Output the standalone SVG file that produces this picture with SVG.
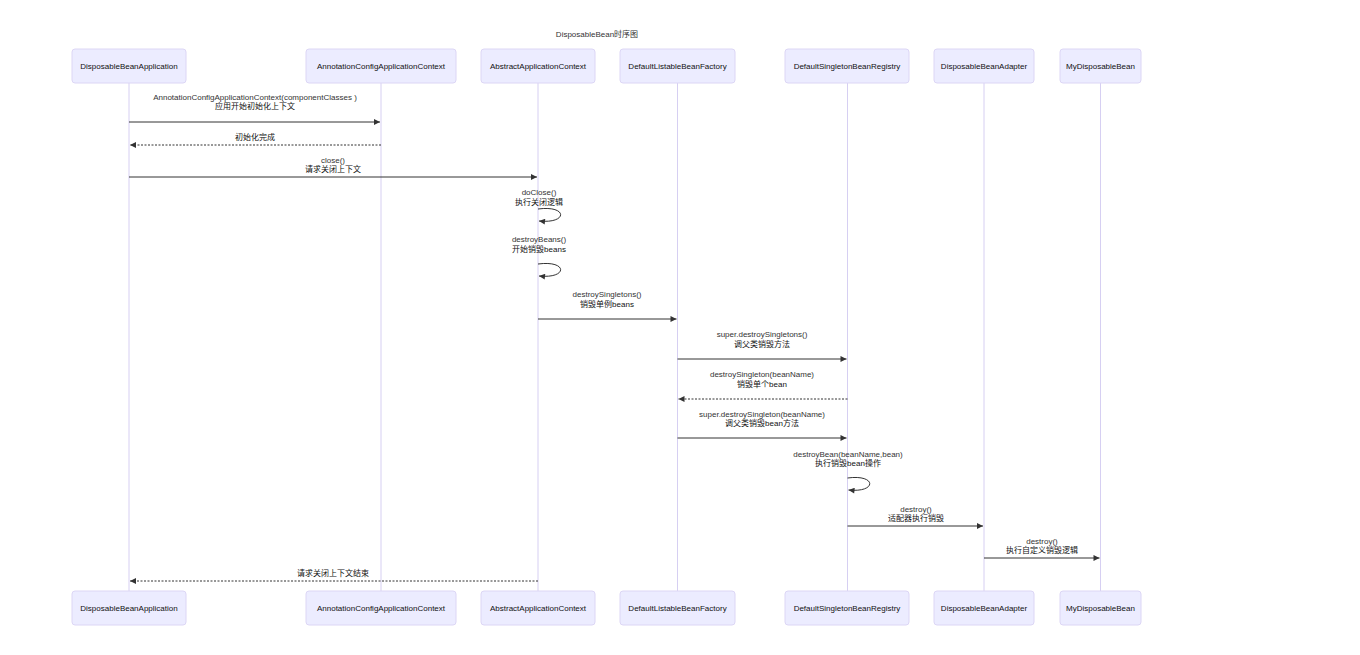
<svg xmlns="http://www.w3.org/2000/svg" width="1360" height="655" viewBox="0 0 1360 655">
<style>
.bg{fill:#ffffff}
.actor rect{fill:#ECECFF;stroke:#DCD6F5;stroke-width:1}
.actor text{font-family:"Liberation Sans","Noto Sans CJK SC",sans-serif;font-size:8px;fill:#111;text-anchor:middle;dominant-baseline:central}
.life{stroke:#D6CFF2;stroke-width:1}
.msg{stroke:#333;stroke-width:1;fill:none}
.dot{stroke-dasharray:2,1.5}
.lbl{font-family:"Liberation Sans","Noto Sans CJK SC",sans-serif;font-size:8px;fill:#333;text-anchor:middle}
.cjk{fill:#111}
.title{font-family:"Liberation Sans","Noto Sans CJK SC",sans-serif;font-size:8px;fill:#333;text-anchor:middle}
</style>
<defs>
<marker id="ah" viewBox="0 0 10 10" refX="10" refY="5" markerWidth="7" markerHeight="6" markerUnits="userSpaceOnUse" orient="auto">
<path d="M0,0 L10,5 L0,10 z" fill="#333"/>
</marker>
</defs>
<rect class="bg" x="0" y="0" width="1360" height="655"/>
<text class="title" x="597" y="37">DisposableBean时序图</text>
<g id="lifelines">
<line class="life" x1="129" y1="83" x2="129" y2="591"/>
<line class="life" x1="381" y1="83" x2="381" y2="591"/>
<line class="life" x1="538" y1="83" x2="538" y2="591"/>
<line class="life" x1="677.5" y1="83" x2="677.5" y2="591"/>
<line class="life" x1="847.5" y1="83" x2="847.5" y2="591"/>
<line class="life" x1="984" y1="83" x2="984" y2="591"/>
<line class="life" x1="1100.5" y1="83" x2="1100.5" y2="591"/>
</g>
<g id="actor-DisposableBeanApplication" class="actor">
<rect x="72" y="49" width="114" height="34" rx="3"/><text x="129" y="66">DisposableBeanApplication</text>
<rect x="72" y="591" width="114" height="34" rx="3"/><text x="129" y="608">DisposableBeanApplication</text>
</g>
<g id="actor-AnnotationConfigApplicationContext" class="actor">
<rect x="306" y="49" width="150" height="34" rx="3"/><text x="381" y="66">AnnotationConfigApplicationContext</text>
<rect x="306" y="591" width="150" height="34" rx="3"/><text x="381" y="608">AnnotationConfigApplicationContext</text>
</g>
<g id="actor-AbstractApplicationContext" class="actor">
<rect x="481" y="49" width="114" height="34" rx="3"/><text x="538" y="66">AbstractApplicationContext</text>
<rect x="481" y="591" width="114" height="34" rx="3"/><text x="538" y="608">AbstractApplicationContext</text>
</g>
<g id="actor-DefaultListableBeanFactory" class="actor">
<rect x="620" y="49" width="115" height="34" rx="3"/><text x="677.5" y="66">DefaultListableBeanFactory</text>
<rect x="620" y="591" width="115" height="34" rx="3"/><text x="677.5" y="608">DefaultListableBeanFactory</text>
</g>
<g id="actor-DefaultSingletonBeanRegistry" class="actor">
<rect x="785" y="49" width="124" height="34" rx="3"/><text x="847" y="66">DefaultSingletonBeanRegistry</text>
<rect x="785" y="591" width="124" height="34" rx="3"/><text x="847" y="608">DefaultSingletonBeanRegistry</text>
</g>
<g id="actor-DisposableBeanAdapter" class="actor">
<rect x="934" y="49" width="100" height="34" rx="3"/><text x="984" y="66">DisposableBeanAdapter</text>
<rect x="934" y="591" width="100" height="34" rx="3"/><text x="984" y="608">DisposableBeanAdapter</text>
</g>
<g id="actor-MyDisposableBean" class="actor">
<rect x="1060" y="49" width="81" height="34" rx="3"/><text x="1100.5" y="66">MyDisposableBean</text>
<rect x="1060" y="591" width="81" height="34" rx="3"/><text x="1100.5" y="608">MyDisposableBean</text>
</g>
<g id="messages">
<text class="lbl" x="255" y="100">AnnotationConfigApplicationContext(componentClasses )</text>
<text class="lbl cjk" x="255" y="109">应用开始初始化上下文</text>
<line class="msg" x1="129" y1="122" x2="380" y2="122" marker-end="url(#ah)"/>
<text class="lbl cjk" x="255" y="140">初始化完成</text>
<line class="msg dot" x1="381" y1="145" x2="130" y2="145" marker-end="url(#ah)"/>
<text class="lbl" x="333" y="163">close()</text>
<text class="lbl cjk" x="333" y="172">请求关闭上下文</text>
<line class="msg" x1="129" y1="177" x2="537" y2="177" marker-end="url(#ah)"/>
<text class="lbl" x="539" y="195">doClose()</text>
<text class="lbl cjk" x="539" y="205">执行关闭逻辑</text>
<path class="msg" d="M538,209 C568,205 568,224 539,221" marker-end="url(#ah)"/>
<text class="lbl" x="539" y="242">destroyBeans()</text>
<text class="lbl cjk" x="539" y="252">开始销毁beans</text>
<path class="msg" d="M538,264 C568,260 568,279 539,276" marker-end="url(#ah)"/>
<text class="lbl" x="607" y="297">destroySingletons()</text>
<text class="lbl cjk" x="607" y="307">销毁单例beans</text>
<line class="msg" x1="538" y1="319" x2="676.5" y2="319" marker-end="url(#ah)"/>
<text class="lbl" x="762" y="337">super.destroySingletons()</text>
<text class="lbl cjk" x="762" y="347">调父类销毁方法</text>
<line class="msg" x1="677.5" y1="359" x2="846.5" y2="359" marker-end="url(#ah)"/>
<text class="lbl" x="762" y="377">destroySingleton(beanName)</text>
<text class="lbl cjk" x="762" y="387">销毁单个bean</text>
<line class="msg dot" x1="847.5" y1="399" x2="678.5" y2="399" marker-end="url(#ah)"/>
<text class="lbl" x="762" y="417">super.destroySingleton(beanName)</text>
<text class="lbl cjk" x="762" y="426">调父类销毁bean方法</text>
<line class="msg" x1="677.5" y1="438" x2="846.5" y2="438" marker-end="url(#ah)"/>
<text class="lbl" x="848" y="457">destroyBean(beanName,bean)</text>
<text class="lbl cjk" x="848" y="466">执行销毁bean操作</text>
<path class="msg" d="M847.5,478 C877,474 877,493 848.5,490" marker-end="url(#ah)"/>
<text class="lbl" x="916" y="512">destroy()</text>
<text class="lbl cjk" x="916" y="521">适配器执行销毁</text>
<line class="msg" x1="847.5" y1="526" x2="983" y2="526" marker-end="url(#ah)"/>
<text class="lbl" x="1042" y="544">destroy()</text>
<text class="lbl cjk" x="1042" y="553">执行自定义销毁逻辑</text>
<line class="msg" x1="984" y1="558" x2="1099.5" y2="558" marker-end="url(#ah)"/>
<text class="lbl cjk" x="333" y="576">请求关闭上下文结束</text>
<line class="msg dot" x1="538" y1="581" x2="130" y2="581" marker-end="url(#ah)"/>
</g>
</svg>
